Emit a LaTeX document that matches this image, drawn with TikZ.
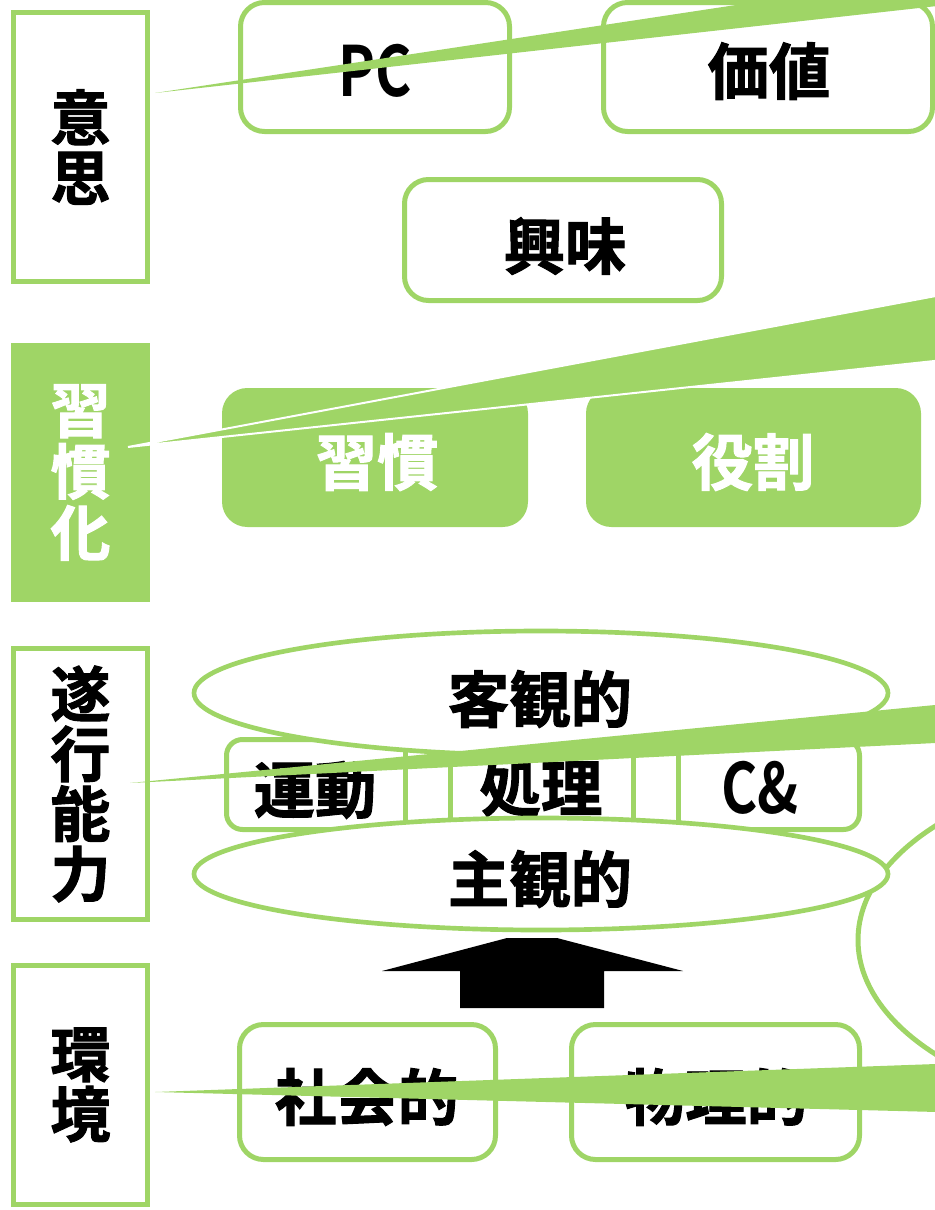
\documentclass[tikz,border=0pt]{standalone}
\usepackage{fontspec}
\setmainfont{Noto Sans CJK JP}[BoldFont={Noto Sans CJK JP Bold}]
\newfontfamily\heavy{Noto Sans CJK JP Bold}[FakeBold=1.6]
\usetikzlibrary{shapes.geometric}
\definecolor{grn}{HTML}{9FD566}
\begin{document}
\begin{tikzpicture}[x=0.75pt,y=-0.75pt,
  lab/.style={draw=grn, line width=3.75pt, fill=white, inner sep=0pt, minimum width=100.5pt, align=center,
     font=\heavy\fontsize{45}{45}\selectfont},
  flab/.style={fill=grn, inner sep=0pt, minimum width=104.25pt, align=center, text=white,
     font=\heavy\fontsize{45}{46}\selectfont},
  rbox/.style={draw=grn, line width=3.75pt, fill=white, rounded corners=18pt, inner sep=0pt},
  fbox/.style={fill=grn, rounded corners=19pt, inner sep=0pt, minimum height=104.25pt},
  oval/.style={ellipse, draw=grn, line width=3.5pt, fill=white, inner sep=0pt},
  jt/.style={inner sep=0pt, font=\heavy\fontsize{46}{46}\selectfont},
  lt/.style={inner sep=0pt, font=\bfseries\fontsize{52}{52}\selectfont, xscale=0.8},
  wedge/.style={fill=grn},
  divider/.style={draw=grn, line width=3.75pt}
]
\useasboundingbox (0,0) rectangle (935,1210);
\clip (0,0) rectangle (935,1210);

% left labels
\node[lab, minimum height=201.75pt] (ishi) at (80.5,147) {意\\思};
\node[flab, minimum height=194.25pt] (shukanka) at (80.5,472.5) {習\\慣\\化};
\node[lab, minimum height=203.25pt] (suiko) at (80.5,784) {遂\\行\\能\\力};
\node[lab, minimum height=179.25pt] (kankyo) at (80.5,1085) {環\\境};

% top row
\node[rbox, minimum width=201.75pt, minimum height=96.75pt] (pcbox) at (375,67) {};
\node[lt] (pc) at (375,71) {PC};
\node[rbox, minimum width=246.75pt, minimum height=96.75pt] (kachibox) at (768,67) {};
\node[jt] (kachi) at (769,71) {価値};
\node[rbox, minimum width=237.75pt, minimum height=90.75pt] (kyomibox) at (563,240) {};
\node[jt] (kyomi) at (565,246) {興味};

% habit row
\node[fbox, minimum width=229.5pt] (shukanbox) at (375,457.5) {};
\node[jt, text=white] (shukan) at (377,462) {習慣};
\node[fbox, minimum width=251.25pt] (yakuwaribox) at (753.5,457.5) {};
\node[jt, text=white] (yakuwari) at (753,462) {役割};

% big callout ellipse at right
\draw[grn, line width=3.75pt] (1178,940) ellipse [x radius=320, y radius=175];

% performance row
\node[rbox, rounded corners=12pt, minimum width=474.75pt, minimum height=67.5pt] (rowbox) at (543,784.5) {};
\draw[divider] (405,737) -- (405,832);
\draw[divider] (450,737) -- (450,832);
\draw[divider] (633,737) -- (633,832);
\draw[divider] (678,737) -- (678,832);
\node[jt] (undo) at (315,790) {運動};
\node[jt] (shori) at (541,788) {処理};
\node[lt] (cand) at (760,788) {C\&};

% up arrow
\fill[black] (460,1008) -- (460,971) -- (382,971) -- (507,938) -- (557,938) -- (683,971) -- (604,971) -- (604,1008) -- cycle;

% ellipses
\node[oval, minimum width=520.5pt, minimum height=93pt] (kyakkan) at (541,693) {};
\node[jt] (kyakkant) at (540,699) {客観的};
\node[oval, minimum width=520.5pt, minimum height=84pt] (shukan2) at (541,874) {};
\node[jt] (shukant) at (540,879) {主観的};

% environment row
\node[rbox, minimum width=192pt, minimum height=101.25pt] (shakaibox) at (367.5,1092) {};
\node[jt] (shakai) at (367,1097) {社会的};
\node[rbox, minimum width=216pt, minimum height=101.25pt] (butsuribox) at (715.5,1092) {};
\node[jt] (butsuri) at (716,1097) {物理的};

% callout wedges
\coordinate (w1) at (155,93);
\coordinate (w2) at (128,447);
\coordinate (w3) at (130,783);
\coordinate (w4) at (155,1092);
\fill[wedge] (w1) -- (1000,-35) -- (1000,-1) -- cycle;
\filldraw[wedge, draw=white, line width=1.5pt] (w2) -- (1000,284) -- (1000,354) -- cycle;
\fill[wedge] (w3) -- (1000,698.7) -- (1000,739.8) -- cycle;
\fill[wedge] (w4) -- (1000,1061.7) -- (1000,1113.6) -- cycle;
\end{tikzpicture}
\end{document}
